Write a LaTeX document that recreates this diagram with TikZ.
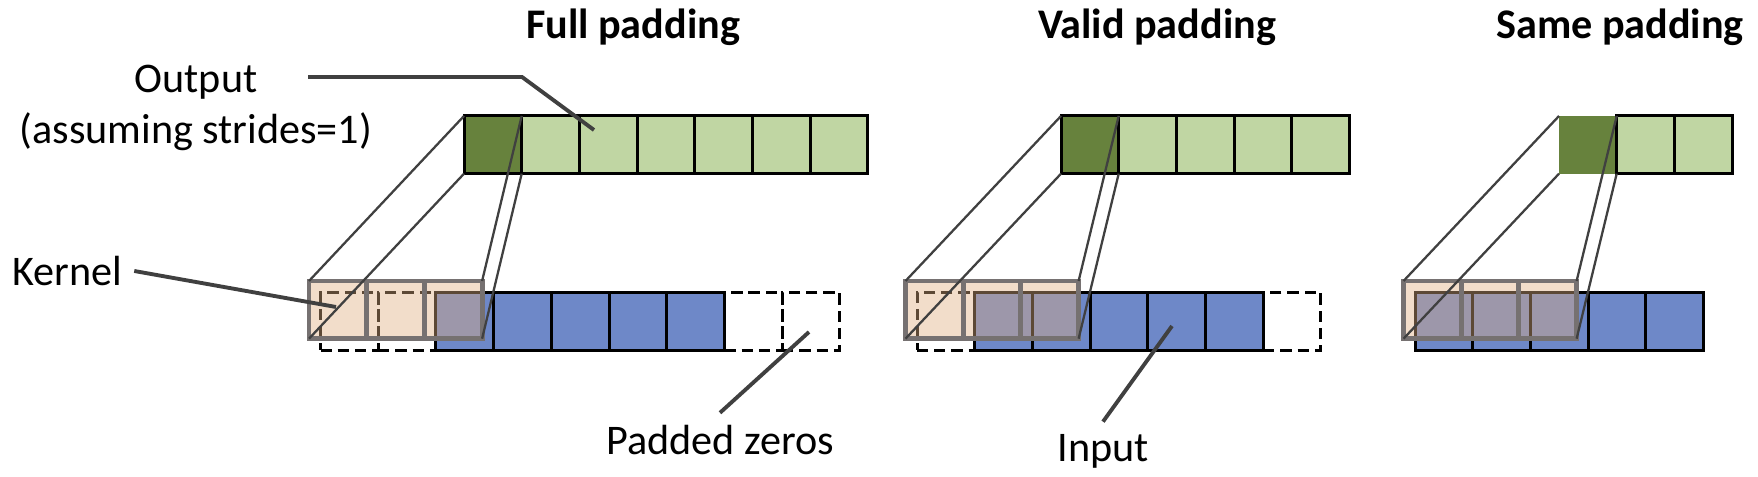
\documentclass[tikz,border=0pt]{standalone}
\usepackage{fontspec}
\setmainfont{Carlito}
\usepackage{xcolor}
\usepackage{tikz}
\usetikzlibrary{positioning}

\definecolor{outdark}{RGB}{103,130,61}
\definecolor{outlight}{RGB}{192,214,163}
\definecolor{inblue}{RGB}{110,136,200}
\definecolor{kerfill}{RGB}{224,174,129}
\definecolor{kerline}{RGB}{118,113,113}
\definecolor{leadgray}{RGB}{64,64,64}

\begin{document}
\begin{tikzpicture}[font=\fontsize{12}{14.4}\selectfont,
  cell/.style={draw=black,line width=0.85pt,minimum size=5.77mm,inner sep=0pt,
    outer sep=0pt,anchor=north west},
  outcell/.style={cell,fill=outlight},
  hotcell/.style={cell,fill=outdark},
  incell/.style={cell,fill=inblue},
  padcell/.style={cell,dash pattern=on 3.2pt off 1.7pt},
  kercell/.style={cell,draw=kerline,line width=1.4pt,fill=kerfill,fill opacity=0.42},
  ray/.style={leadgray,line width=0.65pt},
  leader/.style={leadgray,line width=1.1pt},
  title/.style={font=\fontsize{12}{14.4}\selectfont\bfseries}]
  \useasboundingbox (0,0) rectangle (17.58,4.77);
  \def\s{0.577}

  % ---------- full padding: 2 zeros each side, 7 outputs ----------
  \foreach \i in {0,1,7,8} \node[padcell] (fp\i) at ({3.205+\i*\s},1.845) {};
  \foreach \i in {2,...,6} \node[incell] (fi\i) at ({3.205+\i*\s},1.845) {};
  \foreach \i in {1,2,3} \node[kercell] (fk\i) at ({3.09+(\i-1)*\s},1.96) {};
  \node[hotcell] (fo1) at (4.64,3.61) {};
  \foreach \i in {2,...,7} \node[outcell] (fo\i) at ({4.64+(\i-1)*\s},3.61) {};

  % ---------- valid padding: 1 zero each side, 5 outputs ----------
  \foreach \i in {0,6} \node[padcell] (vp\i) at ({9.17+\i*\s},1.845) {};
  \foreach \i in {1,...,5} \node[incell] (vi\i) at ({9.17+\i*\s},1.845) {};
  \foreach \i in {1,2,3} \node[kercell] (vk\i) at ({9.055+(\i-1)*\s},1.96) {};
  \node[hotcell] (vo1) at (10.61,3.61) {};
  \foreach \i in {2,...,5} \node[outcell] (vo\i) at ({10.61+(\i-1)*\s},3.61) {};

  % ---------- same padding: no zeros, 3 outputs ----------
  \foreach \i in {0,...,4} \node[incell] (si\i) at ({14.15+\i*\s},1.845) {};
  \foreach \i in {1,2,3} \node[kercell] (sk\i) at ({14.035+(\i-1)*\s},1.96) {};
  \node[hotcell,draw=none] (so1) at (15.59,3.61) {};
  \foreach \i in {2,3} \node[outcell] (so\i) at ({15.59+(\i-1)*\s},3.61) {};

  % kernel -> first output cell
  \foreach \p in {f,v,s} {
    \draw[ray] (\p k1.north west) -- (\p o1.north west);
    \draw[ray] (\p k1.south west) -- (\p o1.south west);
    \draw[ray] (\p k3.north east) -- (\p o1.north east);
    \draw[ray] (\p k3.south east) -- (\p o1.south east);
  }

  % ---------- titles ----------
  \node[title] (ftitle) at (6.33,4.50) {Full padding};
  \node[title] (vtitle) at (11.57,4.50) {Valid padding};
  \node[title] (stitle) at (16.20,4.50) {Same padding};

  % ---------- labels and leaders ----------
  \node[align=center] (outlbl) at (1.96,3.69) {Output\\(assuming strides=1)};
  \node (kerlbl) at (0.67,2.06) {Kernel};
  \node (padlbl) at (7.20,0.37) {Padded zeros};
  \node (inlbl) at (11.03,0.26) {Input};

  \coordinate (outtail) at (3.08,4.00);
  \coordinate (outfoot) at (5.94,3.47);
  \coordinate (kerfoot) at (3.36,1.70);
  \coordinate (padfoot) at (8.09,1.45);
  \coordinate (infoot) at (11.72,1.51);

  \draw[leader] (outtail) -- ++(2.14,0) -- (outfoot);
  \draw[leader] (kerlbl.east) -- (kerfoot);
  \draw[leader] (padlbl.north) -- (padfoot);
  \draw[leader] (inlbl.north) -- (infoot);
\end{tikzpicture}
\end{document}
